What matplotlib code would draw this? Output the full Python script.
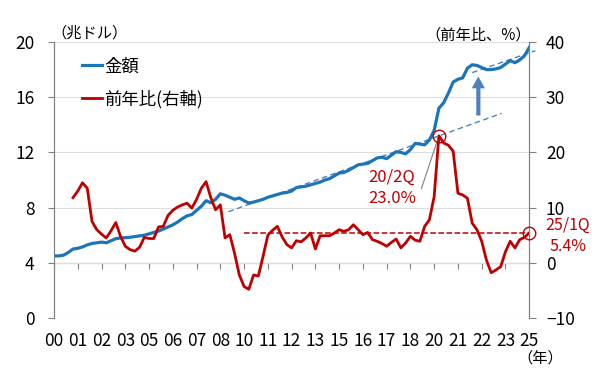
import numpy as np
import matplotlib
matplotlib.use("Agg")
import matplotlib.pyplot as plt

plt.rcParams['font.family'] = ['Noto Sans CJK JP', 'DejaVu Sans']

# 四半期データ（2000/1Q = 0 ～ 2025/1Q = 100）
amount = [4.5, 4.5, 4.55, 4.75, 5.0, 5.05, 5.15, 5.3, 5.4, 5.45,
          5.5, 5.45, 5.6, 5.75, 5.8, 5.82, 5.85, 5.9, 5.95, 6.0,
          6.1, 6.2, 6.3, 6.45, 6.6, 6.75, 6.95, 7.2, 7.4, 7.5,
          7.8, 8.1, 8.5, 8.35, 8.6, 9.0, 8.9, 8.75, 8.6, 8.7,
          8.5, 8.33, 8.4, 8.5, 8.6, 8.75, 8.85, 8.95, 9.05, 9.1,
          9.2, 9.45, 9.5, 9.55, 9.65, 9.75, 9.85, 10.0, 10.1, 10.3,
          10.5, 10.55, 10.7, 10.9, 11.1, 11.15, 11.2, 11.4, 11.6, 11.65,
          11.55, 11.8, 12.05, 12.0, 11.9, 12.2, 12.65, 12.6, 12.55, 12.9,
          13.6, 15.2, 15.6, 16.3, 17.1, 17.3, 17.4, 18.1, 18.35, 18.3,
          18.15, 18.0, 18.0, 18.05, 18.15, 18.4, 18.65, 18.5, 18.7, 19.0,
          19.6]

# 前年比（2001/1Q = 4 から）
yoy = [11.8, 13.0, 14.5, 13.5, 7.5, 6.0, 5.2, 4.5, 5.8, 7.3,
       4.8, 3.0, 2.4, 2.1, 2.8, 4.6, 4.4, 4.4, 6.5, 6.6,
       8.6, 9.5, 10.1, 10.5, 10.8, 9.9, 11.5, 13.5, 14.7, 11.8,
       9.6, 10.5, 4.5, 5.1, 1.7, -2.2, -4.3, -4.8, -2.2, -2.4,
       1.2, 5.0, 5.9, 6.6, 4.7, 3.3, 2.7, 4.0, 3.8, 4.5,
       5.4, 2.5, 4.9, 4.9, 4.9, 5.4, 6.0, 5.7, 6.0, 6.9,
       6.0, 5.1, 5.5, 4.2, 3.9, 3.5, 3.0, 3.7, 4.3, 2.7,
       3.6, 4.8, 4.1, 3.9, 6.6, 7.8, 12.0, 23.0, 21.7, 21.3,
       20.2, 12.6, 12.3, 11.7, 7.2, 6.0, 3.9, 0.5, -1.8, -1.3,
       -0.7, 2.0, 3.9, 2.7, 4.2, 4.6, 5.4]

tick_labels = ['00', '01', '02', '03', '05', '06', '07', '08', '10', '11', '12',
               '13', '15', '16', '17', '18', '20', '21', '22', '23', '25']

# 趨勢線（点線）
trend1_x = [36.7, 94.2]
trend1_y = [7.7, 14.83]
trend2_x = [88, 101.3]
trend2_y = [17.78, 19.37]

peak_q, peak_val = 81, 23.0
last_q, last_val = 100, 5.4

blue = '#1b75bb'
red = '#c00000'
arrow_blue = '#4f81bd'
gray = '#808080'

fig = plt.figure(figsize=(6, 3.78), dpi=100)
ax = fig.add_axes([0.09, 0.1587, 0.792, 0.7302])
ax2 = ax.twinx()

q_amount = np.arange(len(amount))
q_yoy = np.arange(4, 4 + len(yoy))

ax.plot(q_amount, amount, color=blue, lw=2.3, label='金額', zorder=3)
ax2.plot(q_yoy, yoy, color=red, lw=2.0, label='前年比(右軸)', zorder=3)

ax.plot(trend1_x, trend1_y, color=arrow_blue, lw=1.0, dashes=(4, 2.5))
ax.plot(trend2_x, trend2_y, color=arrow_blue, lw=1.0, dashes=(4, 2.5), clip_on=False)

ax2.hlines(last_val, 40, last_q, colors=red, linestyles='--', lw=1.1)

# 上向き矢印
ax.annotate('', xy=(89.3, 17.5), xytext=(89.3, 14.67),
            arrowprops=dict(width=3, headwidth=9.5, headlength=8.5,
                            color=arrow_blue, lw=0))

# 丸印と注記
ax2.plot([peak_q, last_q], [peak_val, last_val], 'o', ms=9, mfc='none',
         mec=red, mew=1.0, clip_on=False, zorder=4)
ax2.annotate('', xy=(peak_q, peak_val), xytext=(77.3, 13.4),
             arrowprops=dict(arrowstyle='-', color=gray, lw=0.8,
                             shrinkA=0, shrinkB=4.5))
ax2.annotate(f'20/2Q\n{peak_val:.1f}%', xy=(peak_q, peak_val), xytext=(-16.5, -37.5),
             textcoords='offset points', ha='right', va='center',
             multialignment='left', linespacing=1.3, color=red, fontsize=12)
ax2.annotate(f'25/1Q\n{last_val:.1f}%', xy=(last_q, last_val), xytext=(28, -2),
             textcoords='offset points', ha='center', va='center',
             linespacing=1.3, color=red, fontsize=11.5)

# 軸
ax.set_xlim(0, 100)
ax.set_ylim(0, 20)
ax2.set_ylim(-10, 40)
ax.set_yticks([0, 4, 8, 12, 16, 20])
ax2.set_yticks([-10, 0, 10, 20, 30, 40])
ax2.set_yticklabels(['−10', '0', '10', '20', '30', '40'])
ax.set_xticks(np.arange(0, 101, 5))
ax.set_xticklabels(tick_labels)

ax.tick_params(axis='x', length=0, pad=10, labelsize=12.5)
ax.tick_params(axis='y', length=4, color=gray, pad=10, labelsize=12.5)
ax2.tick_params(axis='y', length=5, color=gray, pad=7, labelsize=12.5)

for a in (ax, ax2):
    a.spines['top'].set_visible(False)
    a.spines['bottom'].set_visible(False)
    a.spines['left'].set_color(gray)
    a.spines['right'].set_color(gray)

ax.grid(axis='y', color='#dedede', lw=0.8)
ax.set_axisbelow(True)

# 前年比0%の位置の軸線と目盛
sec = ax.secondary_xaxis(0.2)
sec.set_xticks(np.arange(0, 101, 5))
sec.tick_params(axis='x', labelbottom=False, length=4, color=gray, direction='out')
sec.spines['bottom'].set_color(gray)

fig.text(0.085, 0.912, '（兆ドル）', fontsize=11, ha='left', va='center')
fig.text(0.885, 0.907, '（前年比、%）', fontsize=11, ha='right', va='center')
fig.text(0.90, 0.053, '（年）', fontsize=11, ha='center', va='center')

h1, l1 = ax.get_legend_handles_labels()
h2, l2 = ax2.get_legend_handles_labels()
ax2.legend(h1 + h2, l1 + l2, loc='upper left', bbox_to_anchor=(0.059, 0.945),
           frameon=False, borderpad=0, borderaxespad=0, handlelength=1.15,
           handletextpad=0.15, labelspacing=0.85, fontsize=12.5)

fig.savefig('out.png', dpi=100)
